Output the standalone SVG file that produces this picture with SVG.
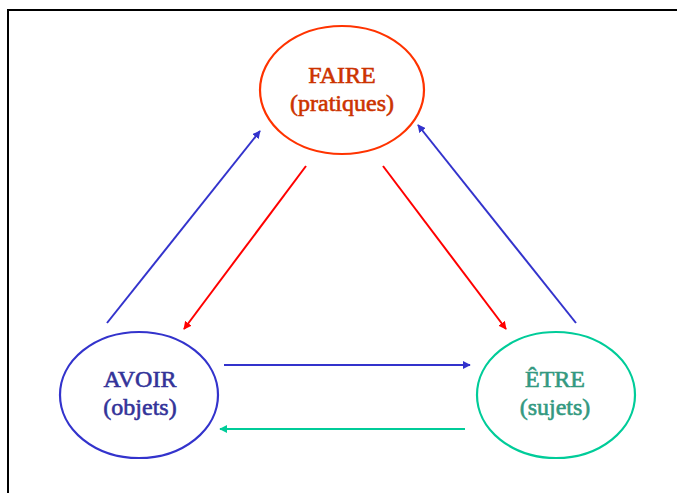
<svg xmlns="http://www.w3.org/2000/svg" width="677" height="493" viewBox="0 0 677 493">
<style>
  .lbl { font-family: "Liberation Serif", "Times New Roman", serif; font-weight: normal; font-size: 24px; text-anchor: middle; stroke-width: 0.6; }
  .node { fill: none; stroke-width: 2.2; }
  .conn { fill: none; stroke-width: 2; }
</style>
<defs>
  <marker id="ahB" viewBox="0 0 10 10" refX="9" refY="5" markerWidth="4" markerHeight="4" orient="auto" markerUnits="strokeWidth">
    <path d="M0,0 L10,5 L0,10 z" fill="#3333CC"/>
  </marker>
  <marker id="ahR" viewBox="0 0 10 10" refX="9" refY="5" markerWidth="4" markerHeight="4" orient="auto" markerUnits="strokeWidth">
    <path d="M0,0 L10,5 L0,10 z" fill="#FF0000"/>
  </marker>
  <marker id="ahT" viewBox="0 0 10 10" refX="9" refY="5" markerWidth="4" markerHeight="4" orient="auto" markerUnits="strokeWidth">
    <path d="M0,0 L10,5 L0,10 z" fill="#00CC99"/>
  </marker>
</defs>
<rect width="677" height="493" fill="#FFFFFF"/>
<path d="M8,493 L8,10 L677,10" fill="none" stroke="#000000" stroke-width="2"/>

<g id="faire">
  <ellipse class="node" cx="342" cy="90" rx="82" ry="64" stroke="#FF3300"/>
  <text class="lbl" x="342" y="83" fill="#CC3300" stroke="#CC3300">FAIRE</text>
  <text class="lbl" x="342" y="111" fill="#CC3300" stroke="#CC3300">(pratiques)</text>
</g>
<g id="avoir">
  <ellipse class="node" cx="139" cy="395" rx="79" ry="63" stroke="#3333CC"/>
  <text class="lbl" x="140" y="387" fill="#333399" stroke="#333399">AVOIR</text>
  <text class="lbl" x="140" y="415" fill="#333399" stroke="#333399">(objets)</text>
</g>
<g id="etre">
  <ellipse class="node" cx="556" cy="395" rx="79" ry="63" stroke="#00CC99"/>
  <text class="lbl" x="555" y="387" fill="#339980" stroke="#339980">ÊTRE</text>
  <text class="lbl" x="555" y="415" fill="#339980" stroke="#339980">(sujets)</text>
</g>

<g id="connectors">
  <line class="conn" x1="107" y1="323" x2="260" y2="131" stroke="#3333CC" marker-end="url(#ahB)"/>
  <line class="conn" x1="306" y1="166" x2="184" y2="329" stroke="#FF0000" marker-end="url(#ahR)"/>
  <line class="conn" x1="383" y1="166" x2="506" y2="329" stroke="#FF0000" marker-end="url(#ahR)"/>
  <line class="conn" x1="576" y1="323" x2="418" y2="125" stroke="#3333CC" marker-end="url(#ahB)"/>
  <line class="conn" x1="224" y1="365" x2="470" y2="365" stroke="#3333CC" marker-end="url(#ahB)"/>
  <line class="conn" x1="465" y1="429" x2="220" y2="429" stroke="#00CC99" marker-end="url(#ahT)"/>
</g>
</svg>
